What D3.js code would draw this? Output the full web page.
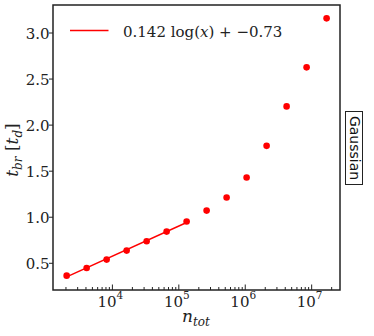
<!DOCTYPE html>
<html>
<head>
<meta charset="utf-8">
<script src="https://cdn.jsdelivr.net/npm/d3@7"></script>
<style>
  body { margin: 0; background: #fff; }
  svg { display: block; }
</style>
</head>
<body>
<svg id="chart" width="374" height="336"></svg>
<script>
// data
var nTot = [2048, 4096, 8192, 16384, 32768, 65536, 131072, 262144, 524288, 1048576, 2097152, 4194304, 8388608, 16777216];
var tBr = [0.366, 0.449, 0.540, 0.638, 0.739, 0.844, 0.953, 1.072, 1.214, 1.431, 1.775, 2.203, 2.627, 3.159];
// fit line end points (0.142 log(x) - 0.73)
var fitX = [2048, 131072];
var fitY = [0.353, 0.943];
var yTicks = [0.5, 1.0, 1.5, 2.0, 2.5, 3.0];
var xTicks = [1e4, 1e5, 1e6, 1e7];

var margin = {left: 53, right: 34, top: 5, bottom: 46},
    width = 374, height = 336;

var svg = d3.select('#chart');
var serif = "'DejaVu Serif', 'Liberation Serif', serif";

var x = d3.scaleLog().domain([1276, 2.67e7]).range([margin.left, width - margin.right]);
var y = d3.scaleLinear().domain([0.21, 3.304]).range([height - margin.bottom, margin.top]);

var x0 = margin.left, x1 = width - margin.right,
    y0 = height - margin.bottom, y1 = margin.top;

// minor ticks on x (inward)
var minor = [];
for (var e = 3; e <= 7; e++) {
    for (var m = 2; m <= 9; m++) {
        var v = m * Math.pow(10, e);
        if (v > x.domain()[0] && v < x.domain()[1]) minor.push(v);
    }
}
svg.append('g').selectAll('line')
   .data(minor).enter().append('line')
   .attr('x1', d => x(d)).attr('x2', d => x(d))
   .attr('y1', y0).attr('y2', y0 - 3)
   .style('stroke', '#222').style('stroke-width', 1);

svg.append('g').selectAll('line')
   .data(xTicks).enter().append('line')
   .attr('x1', d => x(d)).attr('x2', d => x(d))
   .attr('y1', y0).attr('y2', y0 - 5.5)
   .style('stroke', '#222').style('stroke-width', 1);

// x tick labels 10^n
var xl = svg.append('g').selectAll('text')
   .data(xTicks).enter().append('text')
   .attr('x', d => x(d) - 2)
   .attr('y', 307)
   .attr('text-anchor', 'middle')
   .style('font-family', serif).style('font-size', '15px').style('fill', '#222');
xl.append('tspan').text('10');
xl.append('tspan').attr('dy', -8).style('font-size', '10.5px').text(d => Math.round(Math.log10(d)));

// y ticks (outward)
svg.append('g').selectAll('line')
   .data(yTicks).enter().append('line')
   .attr('x1', x0).attr('x2', x0 - 4)
   .attr('y1', d => y(d)).attr('y2', d => y(d))
   .style('stroke', '#222').style('stroke-width', 1);

svg.append('g').selectAll('text')
   .data(yTicks).enter().append('text')
   .attr('x', x0 - 3.5)
   .attr('y', d => y(d) + 5.5)
   .attr('text-anchor', 'end')
   .text(d => d.toFixed(1))
   .style('font-family', serif).style('font-size', '15px').style('fill', '#222');

// frame
svg.append('rect')
   .attr('x', x0).attr('y', y1)
   .attr('width', x1 - x0).attr('height', y0 - y1)
   .style('fill', 'none').style('stroke', '#222').style('stroke-width', 1.5);

// fit line
var line = d3.line().x(d => x(d[0])).y(d => y(d[1]));
svg.append('path')
   .datum(fitX.map((v, i) => [v, fitY[i]]))
   .attr('d', line)
   .style('fill', 'none').style('stroke', '#ff0000').style('stroke-width', 1.5);

// points
svg.append('g').selectAll('circle')
   .data(nTot.map((v, i) => [v, tBr[i]])).enter().append('circle')
   .attr('cx', d => x(d[0])).attr('cy', d => y(d[1]))
   .attr('r', 3.3)
   .style('fill', '#ff0000');

// legend
svg.append('line')
   .attr('x1', 70).attr('x2', 108.5).attr('y1', 30.5).attr('y2', 30.5)
   .style('stroke', '#ff0000').style('stroke-width', 1.5);
var lg = svg.append('text').attr('x', 123).attr('y', 36.5)
   .style('font-family', serif).style('font-size', '15px').style('fill', '#222');
lg.append('tspan').text('0.142 log(');
lg.append('tspan').style('font-style', 'italic').text('x');
lg.append('tspan').text(') + \u22120.73');

// axis labels
var xt = svg.append('text').attr('x', 196).attr('y', 322)
   .attr('text-anchor', 'middle')
   .style('font-family', serif).style('font-size', '17px').style('font-style', 'italic').style('fill', '#222');
xt.append('tspan').text('n');
xt.append('tspan').attr('dy', 4).style('font-size', '12px').text('tot');

var yt = svg.append('text')
   .attr('transform', 'translate(18,150) rotate(-90)')
   .attr('text-anchor', 'middle')
   .style('font-family', serif).style('font-size', '17px').style('fill', '#222');
yt.append('tspan').style('font-style', 'italic').text('t');
yt.append('tspan').attr('dy', 4).style('font-size', '12px').style('font-style', 'italic').text('br');
yt.append('tspan').attr('dy', -4).text(' [');
yt.append('tspan').style('font-style', 'italic').text('t');
yt.append('tspan').attr('dy', 4).style('font-size', '12px').style('font-style', 'italic').text('d');
yt.append('tspan').attr('dy', -4).text(']');

// side label box
svg.append('rect')
   .attr('x', 345.5).attr('y', 111.5).attr('width', 17).attr('height', 73)
   .style('fill', '#fff').style('stroke', '#222').style('stroke-width', 1);
svg.append('text')
   .attr('transform', 'translate(349.5,148) rotate(90)')
   .attr('text-anchor', 'middle')
   .text('Gaussian')
   .style('font-family', "'DejaVu Sans', sans-serif").style('font-size', '14px').style('fill', '#111');
</script>
</body>
</html>
